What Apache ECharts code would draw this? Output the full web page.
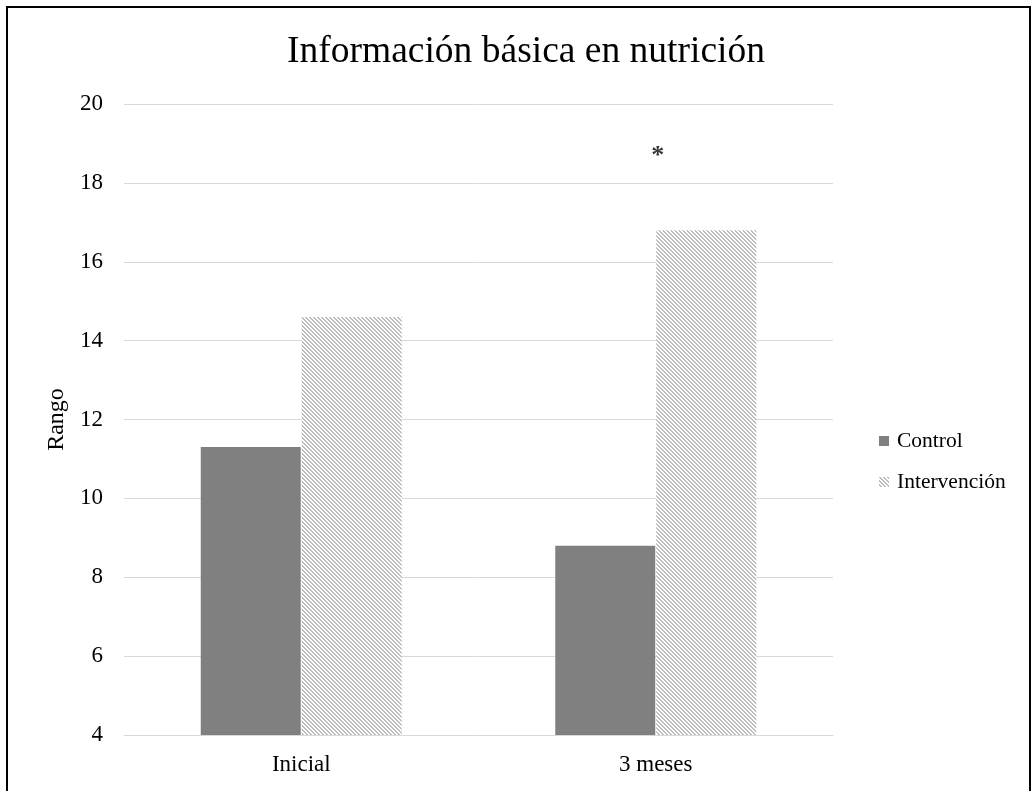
<!DOCTYPE html>
<html>
<head>
<meta charset="utf-8">
<script src="https://cdn.jsdelivr.net/npm/echarts@6/dist/echarts.min.js"></script>
<style>
  html, body { margin: 0; padding: 0; background: #fff; }
  #chart { width: 1031px; height: 791px; }
</style>
</head>
<body>
<div id="chart"></div>
<script>
// Chart data
const categories = ['Inicial', '3 meses'];
const controlValues = [11.3, 8.8];
const intervencionValues = [14.6, 16.8];
// Significance marker position (value axis) per category; null where none
const significance = [null, 18.8];
const yTicks = { min: 4, max: 20, interval: 2 };

// Diagonal hatch fill for the intervention series
function hatchPattern() {
  const size = 4;
  const c = document.createElement('canvas');
  c.width = size; c.height = size;
  const ctx = c.getContext('2d');
  ctx.fillStyle = '#ffffff';
  ctx.fillRect(0, 0, size, size);
  ctx.fillStyle = '#bdbdbd';
  for (let y = 0; y < size; y++) {
    for (let x = 0; x < size; x++) {
      const d = ((x - y) % size + size) % size;
      if (d === 0 || d === 1) ctx.fillRect(x, y, 1, 1);
    }
  }
  return { image: c, repeat: 'repeat' };
}
const hatch = hatchPattern();

const serif = '"Liberation Serif", "DejaVu Serif", serif';
const chart = echarts.init(document.getElementById('chart'));

chart.setOption({
  animation: false,
  backgroundColor: '#ffffff',
  title: {
    text: 'Información básica en nutrición',
    left: 521,
    top: 28,
    textAlign: 'center',
    textStyle: { fontFamily: serif, fontSize: 37.5, fontWeight: 'normal', color: '#000' }
  },
  graphic: [{
    type: 'rect',
    shape: { x: 7, y: 7, width: 1023, height: 800 },
    style: { fill: 'none', stroke: '#000', lineWidth: 2 },
    silent: true
  }],
  legend: {
    orient: 'vertical',
    left: 874,
    top: 425,
    itemWidth: 10,
    itemHeight: 10,
    itemGap: 19,
    data: [
      { name: 'Control', icon: 'rect' },
      { name: 'Intervención', icon: 'rect' }
    ],
    textStyle: { fontFamily: serif, fontSize: 21.5, color: '#000', padding: [0, 0, 0, 3] }
  },
  grid: { left: 124, right: 198, top: 104, bottom: 56 },
  xAxis: {
    type: 'category',
    data: categories,
    axisLine: { lineStyle: { color: '#d9d9d9', width: 1 } },
    axisTick: { show: false },
    axisLabel: { fontFamily: serif, fontSize: 23, color: '#000', margin: 18 }
  },
  yAxis: {
    type: 'value',
    min: yTicks.min,
    max: yTicks.max,
    interval: yTicks.interval,
    name: 'Rango',
    nameLocation: 'middle',
    nameGap: 55,
    nameRotate: 90,
    nameTextStyle: { fontFamily: serif, fontSize: 24, color: '#000' },
    axisLine: { show: false },
    axisTick: { show: false },
    splitLine: { lineStyle: { color: '#d9d9d9', width: 1 } },
    axisLabel: { fontFamily: serif, fontSize: 23, color: '#000', margin: 21 }
  },
  series: [
    {
      name: 'Control',
      type: 'bar',
      data: controlValues,
      barWidth: 100,
      barGap: '1%',
      itemStyle: { color: '#808080' }
    },
    {
      name: 'Intervención',
      type: 'bar',
      data: intervencionValues,
      barWidth: 100,
      itemStyle: { color: hatch }
    },
    {
      name: 'significance',
      type: 'scatter',
      data: significance,
      symbolSize: 1,
      itemStyle: { color: 'rgba(0,0,0,0)' },
      silent: true,
      label: {
        show: true,
        position: 'inside',
        offset: [2, 5],
        formatter: '*',
        fontFamily: serif,
        fontSize: 26,
        fontWeight: 'bold',
        color: '#000'
      }
    }
  ]
});
</script>
</body>
</html>
